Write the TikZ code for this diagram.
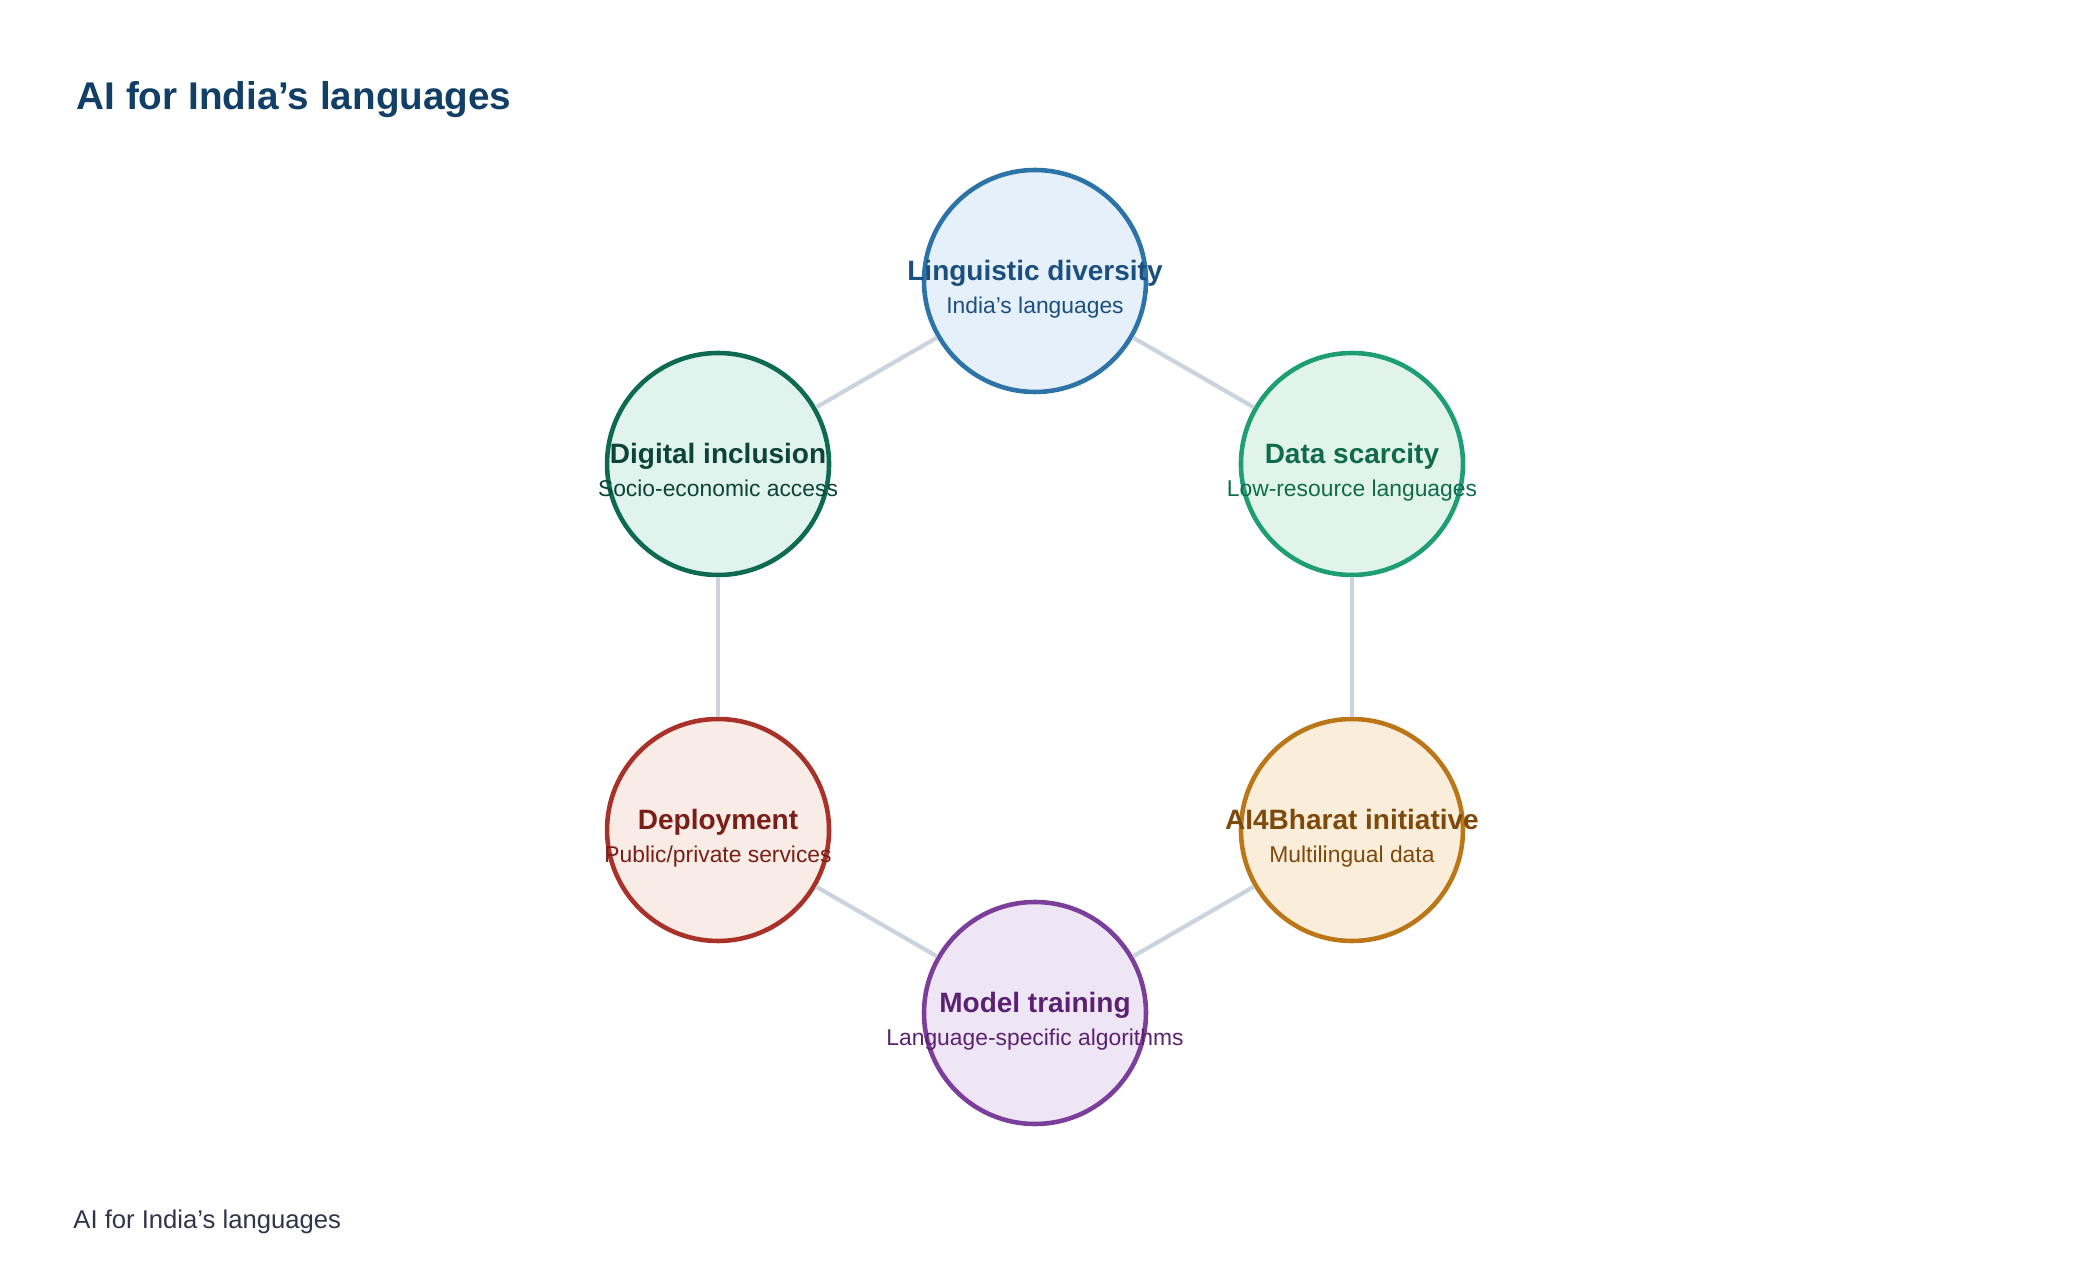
\documentclass[tikz,border=0pt]{standalone}
\usepackage{xcolor}
\usepackage{fontspec}
\setmainfont{Liberation Sans}
\usepackage{tikz}
\usetikzlibrary{positioning,calc}

\definecolor{titleC}{HTML}{123F66}
\definecolor{capC}{HTML}{33334A}
\definecolor{linkC}{HTML}{CBD3DD}
\definecolor{lingD}{HTML}{2C74A7}\definecolor{lingF}{HTML}{E6F0FA}\definecolor{lingT}{HTML}{1B4F7E}
\definecolor{dataD}{HTML}{1F9E74}\definecolor{dataF}{HTML}{E1F4EC}\definecolor{dataT}{HTML}{0F6B4C}
\definecolor{bharD}{HTML}{BB7618}\definecolor{bharF}{HTML}{FAEDDA}\definecolor{bharT}{HTML}{7E4A0C}
\definecolor{modlD}{HTML}{7B3E9A}\definecolor{modlF}{HTML}{EFE6F5}\definecolor{modlT}{HTML}{5A2270}
\definecolor{deplD}{HTML}{A8322A}\definecolor{deplF}{HTML}{F9EBE6}\definecolor{deplT}{HTML}{7A1F18}
\definecolor{digiD}{HTML}{0F6B50}\definecolor{digiF}{HTML}{E0F3EC}\definecolor{digiT}{HTML}{0C4535}

\tikzset{
    topic/.style={circle, draw=#1D, fill=#1F, line width=1.3pt, minimum size=2.22cm, inner sep=0pt},
    head/.style={anchor=base, inner sep=0pt, text=#1T, font=\fontsize{7.97}{9}\selectfont\bfseries},
    sub/.style={anchor=base, inner sep=0pt, text=#1T, font=\fontsize{6.5}{8}\selectfont},
    link/.style={draw=linkC, line width=1.2pt}
}

\begin{document}
\begin{tikzpicture}
    \useasboundingbox (0,0) rectangle (20.8,12.84);
    \node[anchor=base west, inner sep=0pt, text=titleC, font=\fontsize{11}{13}\selectfont\bfseries] (title) at (0.76,11.747) {AI for India’s languages};
    \node[anchor=base west, inner sep=0pt, text=capC, font=\fontsize{7.3}{9}\selectfont] (caption) at (0.727,0.557) {AI for India’s languages};
    \coordinate (hub) at (10.35,6.37);
    % six topics round the hub
    \foreach \n/\a/\t/\s in {ling/90/Linguistic diversity/India’s languages, data/30/Data scarcity/Low-resource languages, bhar/-30/AI4Bharat initiative/Multilingual data, modl/-90/Model training/Language-specific algorithms, depl/-150/Deployment/{Public/private services}, digi/150/Digital inclusion/Socio-economic access} {
        \node[topic=\n] (\n) at ($(hub)+(\a:3.66)$) {};
        \node[head=\n] (\n-head) at (\n.center) {\t};
        \node[sub=\n] (\n-sub) at ($(\n.center)+(0,-0.33)$) {\s};
    }
    \foreach \p/\q in {ling/data, data/bhar, bhar/modl, modl/depl, depl/digi, digi/ling} {
        \draw[link] (\p) -- (\q);
    }
\end{tikzpicture}
\end{document}
